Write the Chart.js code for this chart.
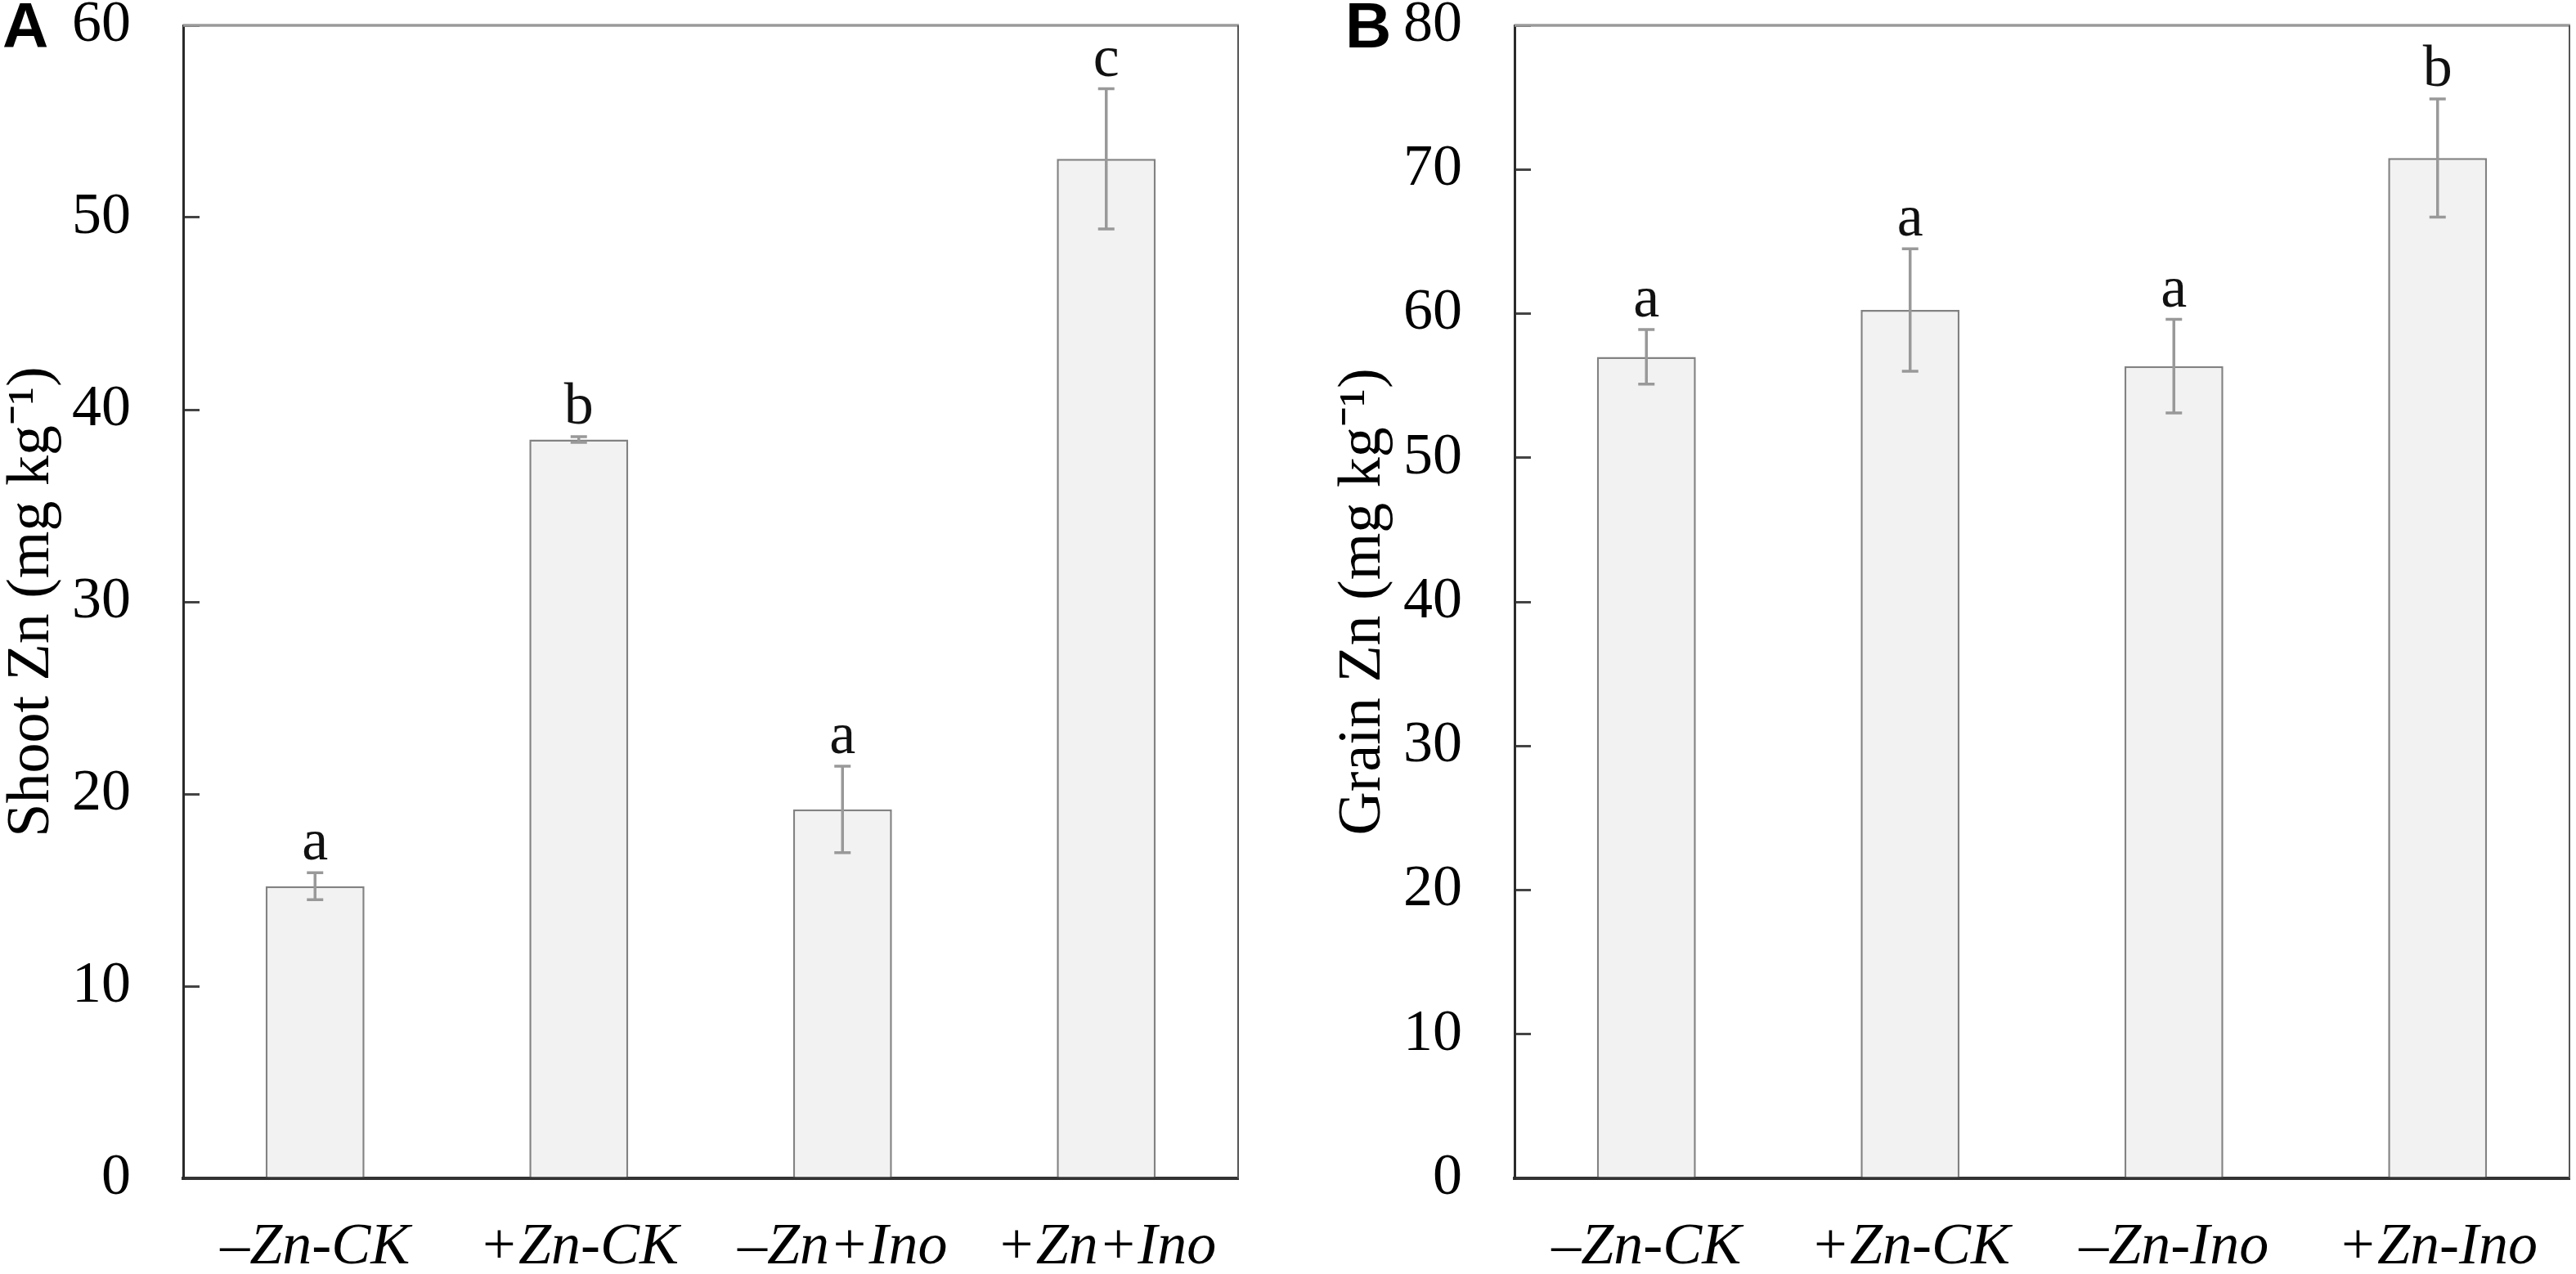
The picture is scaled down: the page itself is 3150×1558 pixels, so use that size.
<!DOCTYPE html>
<html>
<head>
<meta charset="utf-8">
<title>Shoot and grain Zn</title>
<script src="https://cdn.jsdelivr.net/npm/chart.js@4.4.1/dist/chart.umd.min.js"></script>
<style>
  html, body { margin: 0; padding: 0; background: #fff; }
  #wrap { position: relative; width: 3150px; height: 1558px; }
  canvas { position: absolute; top: 0; }
  #chartA { left: 0; }
  #chartB { left: 1575px; }
</style>
</head>
<body>
<div id="wrap">
  <canvas id="chartA" width="1575" height="1558"></canvas>
  <canvas id="chartB" width="1575" height="1558"></canvas>
</div>
<script>
// panel A: shoot Zn
var shootLabels  = ['\u2013Zn-CK', '+Zn-CK', '\u2013Zn+Ino', '+Zn+Ino'];
var shootZn      = [15.2, 38.45, 19.2, 53.05];
var shootErr     = [0.7, 0.15, 2.25, 3.65];
var shootLetters = ['a', 'b', 'a', 'c'];
var shootMax     = 60;

// panel B: grain Zn
var grainLabels  = ['\u2013Zn-CK', '+Zn-CK', '\u2013Zn-Ino', '+Zn-Ino'];
var grainZn      = [57.0, 60.25, 56.35, 70.8];
var grainErr     = [1.9, 4.25, 3.25, 4.1];
var grainLetters = ['a', 'a', 'a', 'b'];
var grainMax     = 80;

var tickStep = 10;
var SERIF = '"Liberation Serif", "Times New Roman", serif';

/* error bars, significance letters, box frame, panel letter */
var extras = {
  id: 'extras',
  afterDatasetsDraw: function (chart, args, opts) {
    var ctx = chart.ctx, xs = chart.scales.x, ys = chart.scales.y;
    var area = chart.chartArea;

    // top + right frame
    ctx.save();
    ctx.lineCap = 'butt';
    ctx.strokeStyle = '#9a9a9a';
    ctx.lineWidth = 3.5;
    ctx.beginPath();
    ctx.moveTo(area.left, area.top);
    ctx.lineTo(area.right + 1, area.top);
    ctx.stroke();
    ctx.strokeStyle = '#555';
    ctx.lineWidth = 2;
    ctx.beginPath();
    ctx.moveTo(area.right, area.top);
    ctx.lineTo(area.right, area.bottom);
    ctx.stroke();

    // error bars
    ctx.strokeStyle = '#999';
    ctx.lineWidth = 3.5;
    opts.means.forEach(function (m, i) {
      var x  = xs.getPixelForValue(i);
      var y1 = ys.getPixelForValue(m + opts.errs[i]);
      var y2 = ys.getPixelForValue(m - opts.errs[i]);
      ctx.beginPath();
      ctx.moveTo(x, y1); ctx.lineTo(x, y2);
      ctx.moveTo(x - 10, y1); ctx.lineTo(x + 10, y1);
      ctx.moveTo(x - 10, y2); ctx.lineTo(x + 10, y2);
      ctx.stroke();

      ctx.fillStyle = '#111';
      ctx.font = '72px ' + SERIF;
      ctx.textAlign = 'center';
      ctx.textBaseline = 'alphabetic';
      ctx.fillText(opts.letters[i], x, y1 - 16);
    });

    // panel letter
    ctx.fillStyle = '#000';
    ctx.font = 'bold 78px "Liberation Sans", Arial, sans-serif';
    ctx.textAlign = 'left';
    ctx.textBaseline = 'alphabetic';
    ctx.fillText(opts.panel, opts.panelX, 58);
    ctx.restore();
  }
};

function makePanel(id, labels, values, errs, letters, yMax, yTitle, panel, panelX, padLeft, padRight) {
  return new Chart(document.getElementById(id), {
    type: 'bar',
    data: {
      labels: labels,
      datasets: [{
        data: values,
        backgroundColor: '#f2f2f2',
        borderColor: '#828282',
        borderWidth: 2.5,
        borderSkipped: 'bottom',
        barPercentage: 0.375,
        categoryPercentage: 1
      }]
    },
    options: {
      responsive: false,
      animation: false,
      devicePixelRatio: 1,
      layout: { padding: { left: padLeft, right: padRight, top: 31, bottom: 0 } },
      plugins: {
        legend: { display: false },
        tooltip: { enabled: false },
        extras: { means: values, errs: errs, letters: letters, panel: panel, panelX: panelX }
      },
      scales: {
        x: {
          grid: { display: false, drawTicks: false },
          border: { display: true, color: '#333', width: 4 },
          ticks: {
            color: '#000', padding: 42, maxRotation: 0, minRotation: 0,
            font: { family: SERIF, size: 72, style: 'italic' }
          },
          afterFit: function (s) { s.height = 117; s.paddingLeft = 0; s.paddingRight = 0; }
        },
        y: {
          min: 0, max: yMax,
          grid: { drawOnChartArea: false, drawTicks: true, tickLength: -20, color: '#444', lineWidth: 3 },
          border: { display: true, color: '#2a2a2a', width: 3 },
          ticks: {
            stepSize: tickStep, color: '#000', padding: 84,
            font: { family: SERIF, size: 72 }
          },
          title: {
            display: true, text: yTitle, color: '#000',
            padding: { top: 3, bottom: 0 },
            font: { family: SERIF, size: 74, lineHeight: 1 }
          },
          afterFit: function (s) { s.width = 224; s.paddingTop = 0; s.paddingBottom = 0; }
        }
      }
    },
    plugins: [extras]
  });
}

makePanel('chartA', shootLabels, shootZn, shootErr, shootLetters, shootMax,
  'Shoot Zn (mg kg\u207B\u00B9)', 'A', 3, 0, 61);
makePanel('chartB', grainLabels, grainZn, grainErr, grainLetters, grainMax,
  'Grain Zn (mg kg\u207B\u00B9)', 'B', 70, 53, 8);
</script>
</body>
</html>
